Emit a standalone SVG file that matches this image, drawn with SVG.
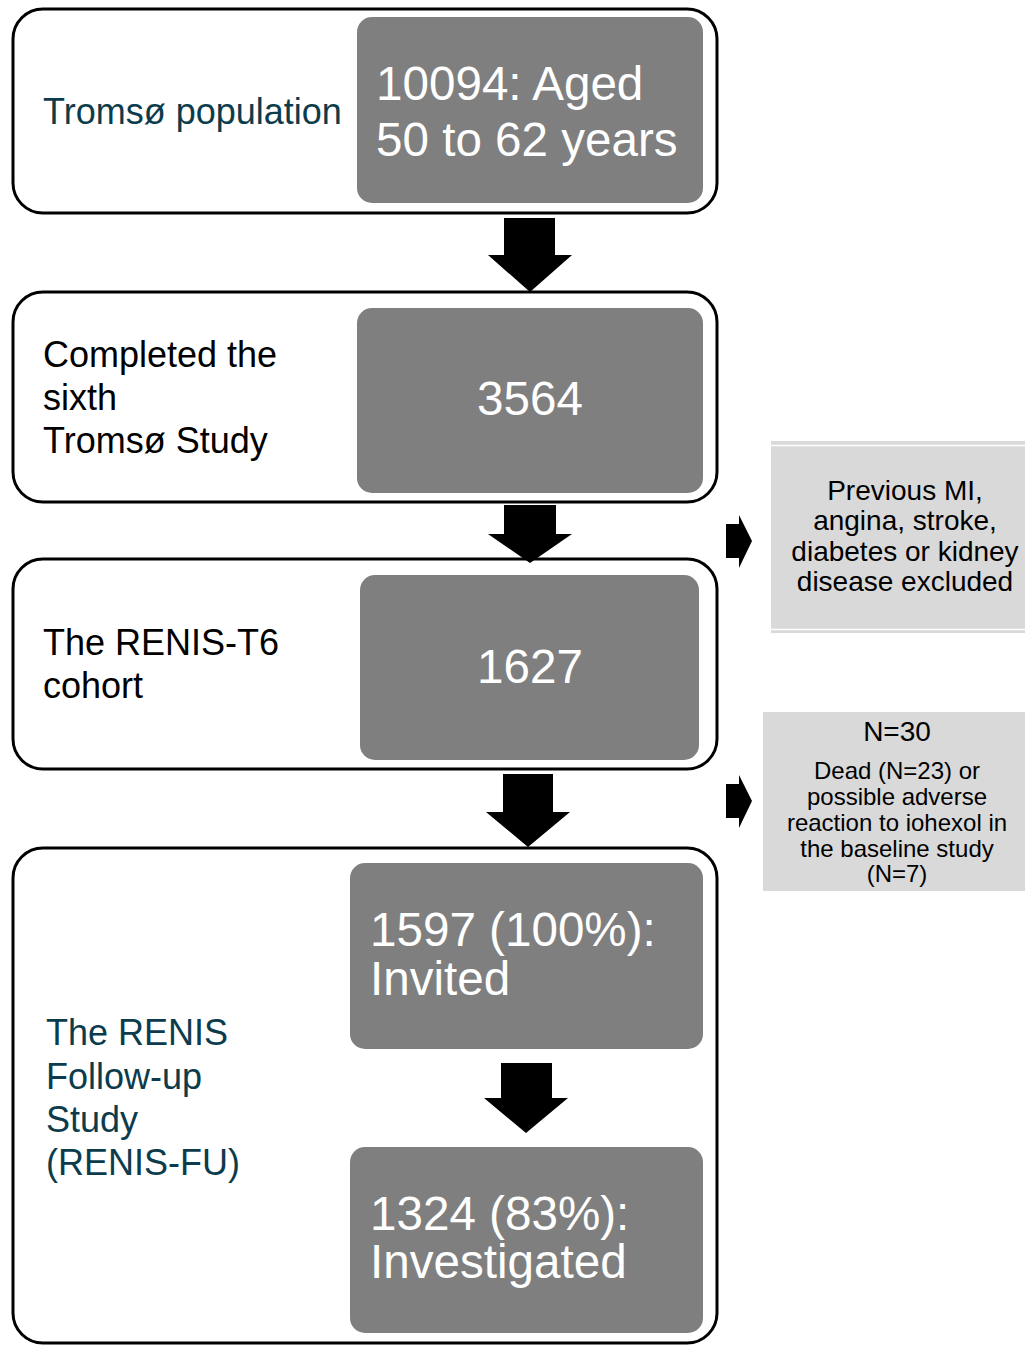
<svg xmlns="http://www.w3.org/2000/svg" width="1025" height="1345" viewBox="0 0 1025 1345">
<style>
.outer{fill:#fff;stroke:#000;stroke-width:3}
.inner{fill:#7f7f7f}
.side{fill:#d9d9d9}
.t{font-family:"Liberation Sans",Arial,sans-serif}
.big{font-size:47.6px;fill:#fff}
.lbl{font-size:36px;fill:#000}
.teal{font-size:36px;fill:#0c3c4c}
.sm{font-size:28px;fill:#000}
.xs{font-size:24px;fill:#000}
.arr{fill:#000}
</style>
<rect width="1025" height="1345" fill="#fff"/>
<g id="node-tromso">
<rect class="outer" x="13" y="9" width="704" height="204" rx="30"/>
<rect class="inner" x="357" y="17" width="346" height="186" rx="15"/>
<text class="t teal" x="43" y="124">Tromsø population</text>
<text class="t big" x="376" y="100">10094: Aged</text>
<text class="t big" x="376" y="156">50 to 62 years</text>
</g>
<g id="node-sixth">
<rect class="outer" x="13" y="292" width="704" height="210" rx="30"/>
<rect class="inner" x="357" y="308" width="346" height="185" rx="15"/>
<text class="t lbl" x="43" y="367">Completed the</text>
<text class="t lbl" x="43" y="410">sixth</text>
<text class="t lbl" x="43" y="453">Tromsø Study</text>
<text class="t big" x="530" y="415" text-anchor="middle">3564</text>
</g>
<g id="node-t6">
<rect class="outer" x="13" y="559" width="704" height="210" rx="30"/>
<rect class="inner" x="360" y="575" width="339" height="185" rx="15"/>
<text class="t lbl" x="43" y="655">The RENIS-T6</text>
<text class="t lbl" x="43" y="698">cohort</text>
<text class="t big" x="530" y="683" text-anchor="middle">1627</text>
</g>
<g id="node-fu">
<rect class="outer" x="13" y="848" width="704" height="495" rx="30"/>
<text class="t teal" x="46" y="1045">The RENIS</text>
<text class="t teal" x="46" y="1089">Follow-up</text>
<text class="t teal" x="46" y="1132">Study</text>
<text class="t teal" x="46" y="1175">(RENIS-FU)</text>
</g>
<g id="node-invited">
<rect class="inner" x="350" y="863" width="353" height="186" rx="15"/>
<text class="t big" x="370" y="946">1597 (100%):</text>
<text class="t big" x="370" y="995">Invited</text>
</g>
<g id="node-investigated">
<rect class="inner" x="350" y="1147" width="353" height="186" rx="15"/>
<text class="t big" x="370" y="1230">1324 (83%):</text>
<text class="t big" x="370" y="1278">Investigated</text>
</g>
<g id="node-excluded">
<rect class="side" x="771" y="441" width="254" height="192"/>
<line x1="771" y1="445.5" x2="1025" y2="445.5" stroke="#fff" stroke-width="1.5"/>
<line x1="771" y1="629.5" x2="1025" y2="629.5" stroke="#fff" stroke-width="1.5"/>
<text class="t sm" x="905" y="500" text-anchor="middle">Previous MI,</text>
<text class="t sm" x="905" y="530" text-anchor="middle">angina, stroke,</text>
<text class="t sm" x="905" y="561" text-anchor="middle">diabetes or kidney</text>
<text class="t sm" x="905" y="591" text-anchor="middle">disease excluded</text>
</g>
<g id="node-n30">
<rect class="side" x="763" y="712" width="262" height="179"/>
<text class="t sm" x="897" y="741" text-anchor="middle">N=30</text>
<text class="t xs" x="897" y="779" text-anchor="middle">Dead (N=23) or</text>
<text class="t xs" x="897" y="805" text-anchor="middle">possible adverse</text>
<text class="t xs" x="897" y="831" text-anchor="middle">reaction to iohexol in</text>
<text class="t xs" x="897" y="857" text-anchor="middle">the baseline study</text>
<text class="t xs" x="897" y="882" text-anchor="middle">(N=7)</text>
</g>
<g id="connectors">
<polygon class="arr" points="504,218 555,218 555,255 572,255 530,292 488,255 504,255"/>
<polygon class="arr" points="504,505 556,505 556,534 572,534 530,563 488,534 504,534"/>
<polygon class="arr" points="503,774 553,774 553,812 570,812 528,847 486,812 503,812"/>
<polygon class="arr" points="501,1063 552,1063 552,1098 568,1098 526,1133 484,1098 501,1098"/>
<polygon class="arr" points="726,524 739,524 739,515 752,541 739,568 739,558 726,558"/>
<polygon class="arr" points="726,784 739,784 739,775 752,801 739,828 739,818 726,818"/>
</g>
</svg>
